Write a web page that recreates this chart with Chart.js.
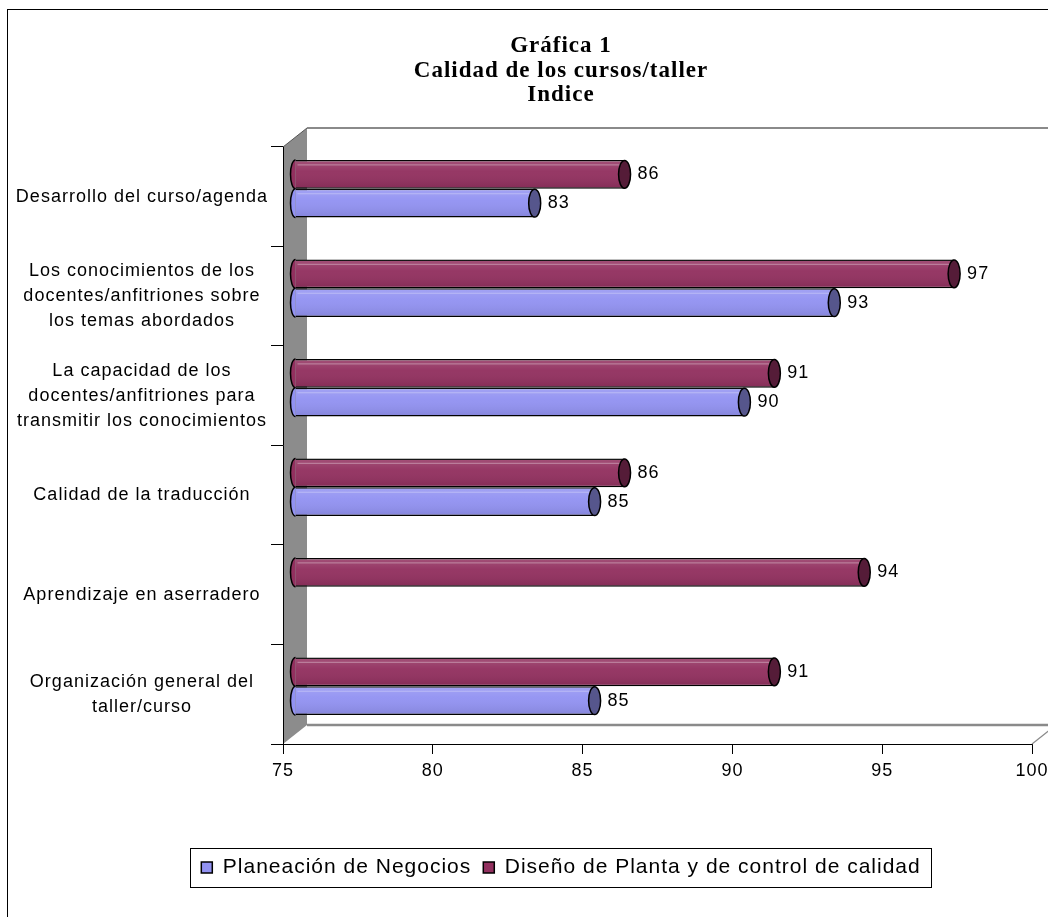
<!DOCTYPE html>
<html>
<head>
<meta charset="utf-8">
<script src="https://cdn.jsdelivr.net/npm/chart.js@4/dist/chart.umd.min.js"></script>
<style>
html,body{margin:0;padding:0;background:#fff;overflow:hidden;width:1048px;height:917px}
#wrap{position:absolute;left:0;top:0;width:1122px;height:917px}
</style>
</head>
<body>
<div id="wrap"><canvas id="c" width="1122" height="917"></canvas></div>
<script>
// ---- data ----
const titleLines = ['Gráfica 1', 'Calidad de los cursos/taller', 'Indice'];
const categories = [
  ['Desarrollo del curso/agenda'],
  ['Los conocimientos de los', 'docentes/anfitriones sobre', 'los temas abordados'],
  ['La capacidad de los', 'docentes/anfitriones para', 'transmitir los conocimientos'],
  ['Calidad de la traducción'],
  ['Aprendizaje en aserradero'],
  ['Organización general del', 'taller/curso']
];
const seriesNames = ['Planeación de Negocios', 'Diseño de Planta y de control de calidad'];
const planeacion = [83, 93, 90, 85, null, 85];
const disenoPlanta = [86, 97, 91, 86, 94, 91];
const xMin = 75, xMax = 100, xStep = 5;

// ---- styling ----
const SANS = '"Liberation Sans", Arial, sans-serif';
const SERIF = '"Liberation Serif", "Times New Roman", serif';
const BLUE = '#9292f2', BLUE_CAP = '#56568c';
const MAROON = '#92305f', MAROON_CAP = '#551c38';
const DEPTH = {dx: 24, dy: -19};
const SHIFT = {dx: 12, dy: -8};

Chart.defaults.color = '#000';
Chart.defaults.font.family = SANS;

const frame3d = {
  id: 'frame3d',
  beforeUpdate(chart) { chart.ctx.letterSpacing = '1px'; },
  beforeLayout(chart) { chart.ctx.letterSpacing = '1px'; },
  beforeDraw(chart) {
    const ctx = chart.ctx;
    ctx.letterSpacing = '1px';
    ctx.save();
    ctx.strokeStyle = '#000';
    ctx.lineWidth = 1;
    ctx.strokeRect(7.5, 9.5, 3000, 3000);
    ctx.restore();
  },
  beforeDatasetsDraw(chart) {
    const ctx = chart.ctx, a = chart.chartArea;
    const L = a.left, R = a.right, T = a.top, B = a.bottom;
    const dx = DEPTH.dx, dy = DEPTH.dy;
    ctx.save();
    ctx.strokeStyle = '#8a8a8a';
    ctx.lineWidth = 2;
    ctx.beginPath();
    ctx.moveTo(L + dx, T + dy); ctx.lineTo(R + dx, T + dy); ctx.lineTo(R + dx, B + dy);
    ctx.stroke();
    ctx.lineWidth = 2.5;
    ctx.beginPath();
    ctx.moveTo(L + dx, B + dy); ctx.lineTo(R + dx, B + dy);
    ctx.stroke();
    ctx.lineWidth = 1.2;
    ctx.beginPath();
    ctx.moveTo(R, B); ctx.lineTo(R + dx, B + dy);
    ctx.stroke();
    ctx.fillStyle = '#8c8c8c';
    ctx.beginPath();
    ctx.moveTo(L, T); ctx.lineTo(L + dx, T + dy); ctx.lineTo(L + dx, B + dy); ctx.lineTo(L, B);
    ctx.closePath();
    ctx.fill();
    ctx.strokeStyle = '#555';
    ctx.lineWidth = 1;
    ctx.beginPath();
    ctx.moveTo(L, T); ctx.lineTo(L + dx, T + dy);
    ctx.stroke();
    ctx.strokeStyle = '#000';
    ctx.beginPath();
    ctx.moveTo(L + 0.5, T); ctx.lineTo(L + 0.5, B);
    ctx.stroke();
    ctx.restore();
    ctx.save();
    ctx.translate(SHIFT.dx, SHIFT.dy);
  },
  afterDatasetsDraw(chart) {
    const ctx = chart.ctx;
    chart.data.datasets.forEach((ds, di) => {
      const meta = chart.getDatasetMeta(di);
      meta.data.forEach((el, i) => {
        const v = ds.data[i];
        if (v === null || v === undefined) return;
        const p = el.getProps(['x', 'y', 'base', 'height'], true);
        const x = p.x, y = p.y, base = p.base, h = p.height;
        const top = y - h / 2, bot = y + h / 2;
        const g = ctx.createLinearGradient(0, top, 0, bot);
        g.addColorStop(0, 'rgba(255,255,255,0.16)');
        g.addColorStop(0.4, 'rgba(255,255,255,0.04)');
        g.addColorStop(1, 'rgba(0,0,0,0.10)');
        ctx.fillStyle = g;
        ctx.fillRect(base, top + 1, x - base, h - 2);
        ctx.strokeStyle = 'rgba(255,255,255,0.30)';
        ctx.lineWidth = 1.2;
        ctx.beginPath();
        ctx.moveTo(base + 2, top + 5); ctx.lineTo(x - 3, top + 5);
        ctx.stroke();
        ctx.beginPath();
        ctx.ellipse(base, y, 5, h / 2, 0, Math.PI / 2, Math.PI * 1.5);
        ctx.fillStyle = ds.backgroundColor;
        ctx.fill();
        ctx.lineWidth = 1.5;
        ctx.strokeStyle = '#000';
        ctx.stroke();
        ctx.beginPath();
        ctx.ellipse(x, y, 6, h / 2 - 0.5, 0, 0, Math.PI * 2);
        ctx.fillStyle = ds.capColor;
        ctx.fill();
        ctx.stroke();
        ctx.fillStyle = '#000';
        ctx.font = '18px ' + SANS;
        ctx.textAlign = 'left';
        ctx.textBaseline = 'middle';
        ctx.fillText(String(v), x + 13, y);
      });
    });
    ctx.restore();
  },
  afterDraw(chart) {
    const lg = chart.legend;
    if (!lg || !lg.legendHitBoxes || !lg.legendHitBoxes.length) return;
    const hb = lg.legendHitBoxes;
    let l = Infinity, r = -Infinity, cy = 0;
    hb.forEach(b => { l = Math.min(l, b.left); r = Math.max(r, b.left + b.width); cy = b.top + b.height / 2; });
    const ctx = chart.ctx;
    ctx.save();
    ctx.strokeStyle = '#000';
    ctx.lineWidth = 1;
    ctx.strokeRect(Math.round(l - 11) + 0.5, Math.round(cy - 19.5) + 0.5, Math.round(r - l + 22), 39);
    ctx.restore();
  }
};

new Chart(document.getElementById('c'), {
  type: 'bar',
  data: {
    labels: categories,
    datasets: [
      {label: seriesNames[1], data: disenoPlanta, backgroundColor: MAROON, capColor: MAROON_CAP,
       borderColor: '#000', borderWidth: 1.5, borderSkipped: 'left', yAxisID: 'y', clip: false,
       base: xMin, categoryPercentage: 0.58, barPercentage: 1},
      {label: seriesNames[0], data: planeacion, backgroundColor: BLUE, capColor: BLUE_CAP,
       borderColor: '#000', borderWidth: 1.5, borderSkipped: 'left', yAxisID: 'y', clip: false,
       base: xMin, categoryPercentage: 0.58, barPercentage: 1}
    ]
  },
  options: {
    indexAxis: 'y',
    responsive: false,
    animation: false,
    events: [],
    layout: {padding: {left: 0, right: 0, top: 0, bottom: 29}},
    plugins: {
      title: {
        display: true, text: titleLines, color: '#000',
        font: {family: SERIF, size: 23, weight: 'bold', lineHeight: 1.065},
        padding: {top: 34, bottom: 39.5}
      },
      legend: {
        position: 'bottom', reverse: true,
        labels: {color: '#000', font: {family: SANS, size: 21}, boxWidth: 11, boxHeight: 11, padding: 12}
      },
      tooltip: {enabled: false}
    },
    scales: {
      x: {
        type: 'linear', min: xMin, max: xMax,
        ticks: {stepSize: xStep, color: '#000', font: {size: 18}, padding: 6},
        grid: {drawOnChartArea: false, color: '#000', tickLength: 10},
        border: {color: '#000'},
        afterFit(s) { s.height = 101; }
      },
      y: {
        type: 'category', position: 'left',
        ticks: {color: '#000', font: {size: 18, lineHeight: 1.4}, crossAlign: 'center', padding: 3, autoSkip: false},
        grid: {drawOnChartArea: false, color: '#000', tickLength: 12, offset: true},
        border: {color: '#000'},
        afterFit(s) { s.width = 283; }
      },
      yR: {
        type: 'linear', position: 'right', display: true,
        grid: {display: false, drawTicks: false}, border: {display: false}, ticks: {display: false},
        afterFit(s) { s.width = 90; }
      }
    }
  },
  plugins: [frame3d]
});
</script>
</body>
</html>
